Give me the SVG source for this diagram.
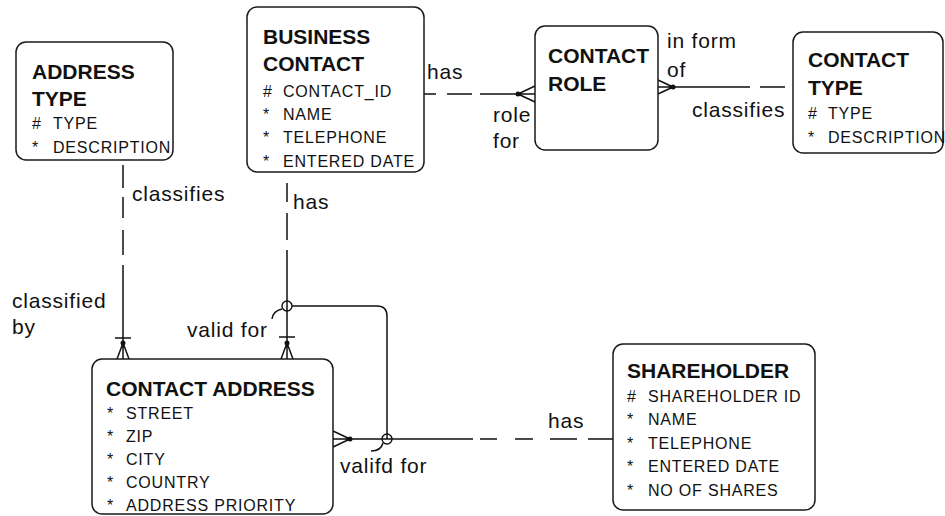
<svg xmlns="http://www.w3.org/2000/svg" width="945" height="516" viewBox="0 0 945 516">
  <style>
    .box { fill: #fff; stroke: #1a1a1a; stroke-width: 1.5; }
    .title { font-family: "Liberation Sans", Arial, sans-serif; font-weight: bold; font-size: 21px; fill: #111; }
    .attr { font-family: "Liberation Sans", Arial, sans-serif; font-size: 16px; letter-spacing: 0.8px; fill: #111; }
    .lbl { font-family: "Liberation Sans", Arial, sans-serif; font-size: 21px; letter-spacing: 0.8px; fill: #111; }
    .ln { fill: none; stroke: #111; stroke-width: 1.5; }
    .dot { fill: #111; }
    .ring { fill: none; stroke: #111; stroke-width: 1.4; }
  </style>
  <rect width="945" height="516" fill="#fff"/>

  <!-- relationship lines -->
  <g id="connectors">
    <!-- BUSINESS CONTACT has / role for CONTACT ROLE -->
    <path class="ln" d="M424,94 H436 M447,94 H472 M480,94 H518"/>
    <path class="ln" d="M518,94 L535,86 M518,94 L535,94 M518,94 L535,102"/>
    <circle class="dot" cx="518" cy="94" r="2.5"/>

    <!-- CONTACT ROLE in form of / CONTACT TYPE classifies -->
    <path class="ln" d="M673,87 H750 M760,87 H785"/>
    <path class="ln" d="M673,87 L658,80 M673,87 L658,87 M673,87 L658,94"/>
    <circle class="dot" cx="673" cy="87" r="2.5"/>

    <!-- ADDRESS TYPE classifies / classified by CONTACT ADDRESS -->
    <path class="ln" d="M123,165 V188 M123,197 V218 M123,230 V255 M123,265 V343"/>
    <path class="ln" d="M115,338 H131"/>
    <path class="ln" d="M123,343 L117,359 M123,343 L123,359 M123,343 L129,359"/>
    <circle class="dot" cx="123" cy="343" r="2.5"/>

    <!-- BUSINESS CONTACT has / valid for CONTACT ADDRESS -->
    <path class="ln" d="M287,183 V202 M287,213 V240 M287,250 V343"/>
    <path class="ln" d="M279,337 H295"/>
    <path class="ln" d="M287,343 L281,359 M287,343 L287,359 M287,343 L293,359"/>
    <circle class="dot" cx="287" cy="343" r="2.5"/>

    <!-- arc joining the two optional ends -->
    <path class="ln" d="M292,306 H377 Q387,306 387,316 V439"/>
    <circle class="ring" cx="287" cy="306" r="5"/>
    <path class="ln" d="M272,319 Q273,311 282,309"/>

    <!-- CONTACT ADDRESS valifd for / SHAREHOLDER has -->
    <path class="ln" d="M350,439 H473 M480,439 H497 M515,439 H533 M550,439 H577 M588,439 H613"/>
    <path class="ln" d="M350,439 L333,431 M350,439 L333,439 M350,439 L333,447"/>
    <circle class="dot" cx="350" cy="439" r="2.5"/>
    <circle class="ring" cx="387" cy="439" r="5"/>
    <path class="ln" d="M371,451 Q381,451 383,443"/>
  </g>

  <!-- relationship labels -->
  <g id="labels">
    <text class="lbl" x="427" y="79">has</text>
    <text class="lbl" x="493" y="122">role</text>
    <text class="lbl" x="493" y="148">for</text>
    <text class="lbl" x="667" y="48">in form</text>
    <text class="lbl" x="667" y="77">of</text>
    <text class="lbl" x="692" y="117">classifies</text>
    <text class="lbl" x="132" y="201">classifies</text>
    <text class="lbl" x="293" y="209">has</text>
    <text class="lbl" x="12" y="308">classified</text>
    <text class="lbl" x="12" y="334">by</text>
    <text class="lbl" x="187" y="337">valid for</text>
    <text class="lbl" x="340" y="473">valifd for</text>
    <text class="lbl" x="548" y="428">has</text>
  </g>

  <g id="address-type">
    <rect class="box" x="16" y="42" width="157" height="118" rx="10"/>
    <text class="title" x="32" y="79">ADDRESS</text>
    <text class="title" x="32" y="106">TYPE</text>
    <text class="attr" x="32" y="129">#</text>
    <text class="attr" x="53" y="129">TYPE</text>
    <text class="attr" x="32" y="153">*</text>
    <text class="attr" x="53" y="153">DESCRIPTION</text>
  </g>

  <g id="business-contact">
    <rect class="box" x="247" y="7" width="177" height="165" rx="10"/>
    <text class="title" x="263" y="44">BUSINESS</text>
    <text class="title" x="263" y="71">CONTACT</text>
    <text class="attr" x="263" y="97">#</text>
    <text class="attr" x="283" y="97">CONTACT_ID</text>
    <text class="attr" x="263" y="120">*</text>
    <text class="attr" x="283" y="120">NAME</text>
    <text class="attr" x="263" y="143">*</text>
    <text class="attr" x="283" y="143">TELEPHONE</text>
    <text class="attr" x="263" y="167">*</text>
    <text class="attr" x="283" y="167">ENTERED DATE</text>
  </g>

  <g id="contact-role">
    <rect class="box" x="535" y="26" width="123" height="124" rx="10"/>
    <text class="title" x="548" y="63">CONTACT</text>
    <text class="title" x="548" y="91">ROLE</text>
  </g>

  <g id="contact-type">
    <rect class="box" x="793" y="32" width="150" height="121" rx="10"/>
    <text class="title" x="808" y="67">CONTACT</text>
    <text class="title" x="808" y="95">TYPE</text>
    <text class="attr" x="808" y="119">#</text>
    <text class="attr" x="828" y="119">TYPE</text>
    <text class="attr" x="808" y="143">*</text>
    <text class="attr" x="828" y="143">DESCRIPTION</text>
  </g>

  <g id="contact-address">
    <rect class="box" x="92" y="359" width="241" height="155" rx="10"/>
    <text class="title" x="106" y="396">CONTACT ADDRESS</text>
    <text class="attr" x="107" y="419">*</text>
    <text class="attr" x="126" y="419">STREET</text>
    <text class="attr" x="107" y="442">*</text>
    <text class="attr" x="126" y="442">ZIP</text>
    <text class="attr" x="107" y="465">*</text>
    <text class="attr" x="126" y="465">CITY</text>
    <text class="attr" x="107" y="488">*</text>
    <text class="attr" x="126" y="488">COUNTRY</text>
    <text class="attr" x="107" y="511">*</text>
    <text class="attr" x="126" y="511">ADDRESS PRIORITY</text>
  </g>

  <g id="shareholder">
    <rect class="box" x="613" y="344" width="202" height="166" rx="10"/>
    <text class="title" x="627" y="378">SHAREHOLDER</text>
    <text class="attr" x="627" y="402">#</text>
    <text class="attr" x="648" y="402">SHAREHOLDER ID</text>
    <text class="attr" x="627" y="425">*</text>
    <text class="attr" x="648" y="425">NAME</text>
    <text class="attr" x="627" y="449">*</text>
    <text class="attr" x="648" y="449">TELEPHONE</text>
    <text class="attr" x="627" y="472">*</text>
    <text class="attr" x="648" y="472">ENTERED DATE</text>
    <text class="attr" x="627" y="496">*</text>
    <text class="attr" x="648" y="496">NO OF SHARES</text>
  </g>
</svg>
